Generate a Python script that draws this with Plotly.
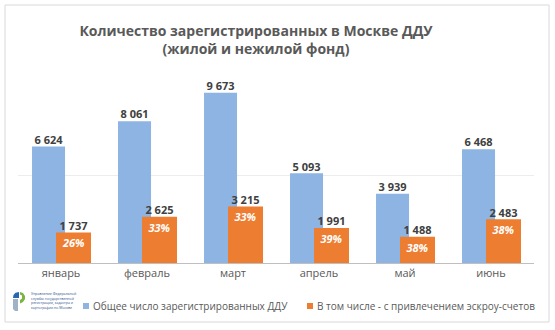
import plotly.graph_objects as go

# ---- data ----
months = ["январь", "февраль", "март", "апрель", "май", "июнь"]
total_ddu = [6624, 8061, 9673, 5093, 3939, 6468]
escrow_ddu = [1737, 2625, 3215, 1991, 1488, 2483]
escrow_share = ["26%", "33%", "33%", "39%", "38%", "38%"]
series_names = ["Общее число зарегистрированных ДДУ",
                "В том числе - с привлечением эскроу-счетов"]

W, H = 555, 330
L, R, T, B = 18, 21, 87, 67
PW, PH = W - L - R, H - T - B

def px_x(px):
    return (px - L) / PW

def px_y(py):
    return (H - B - py) / PH

FONT = "Open Sans"
BLUE = "#8DB4E2"
ORANGE = "#ED7D31"
idx = list(range(len(months)))

def fmt(v):
    return f"{v:,}".replace(",", " ")

fig = go.Figure()
fig.add_trace(go.Bar(
    x=idx, y=total_ddu, name=series_names[0], offset=-0.337, width=0.384,
    marker=dict(color=BLUE, line=dict(width=0)), showlegend=False, hoverinfo="y"))
fig.add_trace(go.Bar(
    x=idx, y=escrow_ddu, name=series_names[1], offset=-0.058, width=0.407,
    marker=dict(color=ORANGE, line=dict(width=0)), showlegend=False, hoverinfo="y",
    text=escrow_share, textposition="inside", insidetextanchor="end", textangle=0,
    textfont=dict(family=FONT, size=11, color="white", weight="bold", style="italic")))
fig.add_trace(go.Scatter(
    x=[i - 0.145 for i in idx], y=total_ddu, mode="text",
    text=[fmt(v) for v in total_ddu], textposition="top center",
    textfont=dict(family=FONT, size=11, color="#404040", weight="bold"),
    cliponaxis=False, showlegend=False, hoverinfo="skip"))
fig.add_trace(go.Scatter(
    x=[i + 0.145 for i in idx], y=escrow_ddu, mode="text",
    text=[fmt(v) for v in escrow_ddu], textposition="top center",
    textfont=dict(family=FONT, size=11, color="#404040", weight="bold"),
    cliponaxis=False, showlegend=False, hoverinfo="skip"))

shapes = []
annotations = []
# chart frame
shapes.append(dict(type="rect", xref="paper", yref="paper",
                   x0=px_x(5), x1=px_x(549), y0=px_y(322), y1=px_y(5),
                   line=dict(color="#d9d9d9", width=1), layer="below"))
# manual legend
legend_items = [(83, BLUE, series_names[0]), (307, ORANGE, series_names[1])]
for xs, col, name in legend_items:
    shapes.append(dict(type="rect", xref="paper", yref="paper",
                       x0=px_x(xs), x1=px_x(xs + 6), y0=px_y(309), y1=px_y(303),
                       fillcolor=col, line=dict(width=0)))
    annotations.append(dict(xref="paper", yref="paper", x=px_x(xs + 8), y=px_y(306),
                            xanchor="left", yanchor="middle", showarrow=False, text=name,
                            font=dict(family=FONT, size=10, color="#595959")))

# logo (small emblem)
def poly(points, color):
    d = "M " + " L ".join(f"{px_x(a)},{px_y(b)}" for a, b in points) + " Z"
    return dict(type="path", xref="paper", yref="paper", path=d,
                fillcolor=color, line=dict(width=0))

shapes.append(poly([(13, 298), (13.5, 295), (15.5, 292.8), (19, 292), (19, 298)], "#2b66ad"))
shapes.append(poly([(20, 292), (23, 293), (25, 296), (25, 299), (23, 302), (20, 303.5), (20, 300),
                    (22, 298.5), (22, 295.5), (20, 294.5)], "#7cb342"))
shapes.append(poly([(13, 299), (18, 299), (18, 311), (15, 311), (13, 309)], "#9fb3c8"))
annotations.append(dict(xref="paper", yref="paper", x=px_x(29), y=px_y(300),
                        xanchor="left", yanchor="middle", showarrow=False, align="left",
                        text="Управление Федеральной<br>службы государственной<br>"
                             "регистрации, кадастра и<br>картографии по Москве",
                        font=dict(family=FONT, size=3.5, color="#1f4e8c")))

fig.update_layout(
    width=W, height=H,
    margin=dict(l=L, r=R, t=T, b=B, pad=0),
    paper_bgcolor="white", plot_bgcolor="white",
    barmode="overlay",
    title=dict(text="Количество зарегистрированных в Москве ДДУ<br>(жилой и нежилой фонд)",
               x=256 / W, xref="container", xanchor="center",
               y=1 - 36 / H, yref="container", yanchor="middle",
               font=dict(family=FONT, size=14, color="#595959", weight="bold")),
    xaxis=dict(range=[-0.5, 5.5], tickmode="array", tickvals=idx, ticktext=months,
               showgrid=False, zeroline=False, showline=True, linecolor="#bfbfbf",
               linewidth=1, ticks="", tickfont=dict(family=FONT, size=11, color="#595959"),
               fixedrange=True),
    yaxis=dict(range=[0, 10000], dtick=5000, showticklabels=False, showgrid=True,
               gridcolor="#ececec", gridwidth=1, zeroline=False, showline=False,
               fixedrange=True),
    shapes=shapes, annotations=annotations,
    showlegend=False,
)

fig.write_html("out.html")
